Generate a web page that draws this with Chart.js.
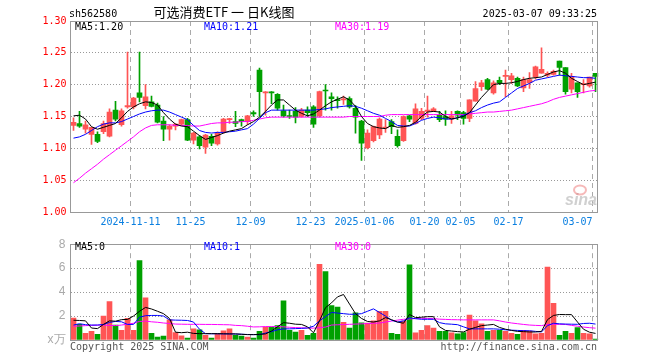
<!DOCTYPE html>
<html>
<head>
<meta charset="utf-8">
<style>
  html, body { margin: 0; padding: 0; background: #fff; }
  #wrap { position: relative; width: 660px; height: 360px; }
  canvas { position: absolute; left: 0; }
  #k { top: 0; }
  #v { top: 232px; }
</style>
<script src="https://cdn.jsdelivr.net/npm/chart.js@4/dist/chart.umd.min.js"></script>
</head>
<body>
<div id="wrap">
  <canvas id="k" width="660" height="232"></canvas>
  <canvas id="v" width="660" height="128"></canvas>
</div>
<script>
// 可选消费ETF (sh562580) — 日K线图

const dates = [
  '2024-10-28','2024-10-29','2024-10-30','2024-10-31','2024-11-01','2024-11-04','2024-11-05','2024-11-06','2024-11-07','2024-11-08',
  '2024-11-11','2024-11-12','2024-11-13','2024-11-14','2024-11-15','2024-11-18','2024-11-19','2024-11-20','2024-11-21','2024-11-22',
  '2024-11-25','2024-11-26','2024-11-27','2024-11-28','2024-11-29','2024-12-02','2024-12-03','2024-12-04','2024-12-05','2024-12-06',
  '2024-12-09','2024-12-10','2024-12-11','2024-12-12','2024-12-13','2024-12-16','2024-12-17','2024-12-18','2024-12-19','2024-12-20',
  '2024-12-23','2024-12-24','2024-12-25','2024-12-26','2024-12-27','2024-12-30','2024-12-31','2025-01-02','2025-01-03','2025-01-06',
  '2025-01-07','2025-01-08','2025-01-09','2025-01-10','2025-01-13','2025-01-14','2025-01-15','2025-01-16','2025-01-17','2025-01-20',
  '2025-01-21','2025-01-22','2025-01-23','2025-01-24','2025-01-27','2025-02-05','2025-02-06','2025-02-07','2025-02-10','2025-02-11',
  '2025-02-12','2025-02-13','2025-02-14','2025-02-17','2025-02-18','2025-02-19','2025-02-20','2025-02-21','2025-02-24','2025-02-25',
  '2025-02-26','2025-02-27','2025-02-28','2025-03-03','2025-03-04','2025-03-05','2025-03-06','2025-03-07'
];

const opens = [
  1.136,1.139,1.130,1.122,1.122,1.126,1.119,1.160,1.137,1.165,
  1.165,1.187,1.167,1.173,1.168,1.143,1.130,1.135,1.138,1.145,
  1.113,1.118,1.102,1.119,1.107,1.126,1.145,1.142,1.145,1.142,
  1.156,1.223,1.187,1.188,1.185,1.159,1.151,1.158,1.150,1.160,
  1.165,1.151,1.191,1.181,1.176,1.176,1.178,1.163,1.143,1.101,
  1.112,1.121,1.132,1.142,1.119,1.112,1.151,1.139,1.147,1.158,
  1.158,1.152,1.150,1.146,1.158,1.156,1.147,1.174,1.197,1.208,
  1.187,1.207,1.213,1.208,1.210,1.195,1.203,1.212,1.218,1.215,
  1.216,1.237,1.227,1.193,1.203,1.200,1.198,1.218
];
const highs = [
  1.148,1.158,1.143,1.133,1.126,1.143,1.162,1.174,1.162,1.251,
  1.180,1.251,1.200,1.182,1.171,1.150,1.137,1.139,1.146,1.147,
  1.125,1.120,1.122,1.122,1.126,1.147,1.147,1.158,1.146,1.152,
  1.159,1.226,1.189,1.189,1.186,1.168,1.160,1.164,1.163,1.165,
  1.167,1.190,1.200,1.187,1.181,1.182,1.181,1.167,1.144,1.129,
  1.135,1.148,1.145,1.145,1.129,1.151,1.152,1.170,1.163,1.182,
  1.164,1.158,1.159,1.158,1.159,1.158,1.176,1.205,1.207,1.210,
  1.206,1.212,1.223,1.218,1.212,1.212,1.219,1.229,1.258,1.220,
  1.223,1.237,1.227,1.218,1.203,1.208,1.212,1.218
];
const lows = [
  1.128,1.133,1.124,1.106,1.109,1.123,1.118,1.143,1.135,1.163,
  1.162,1.173,1.162,1.165,1.140,1.112,1.113,1.129,1.136,1.112,
  1.107,1.099,1.092,1.104,1.105,1.124,1.139,1.134,1.135,1.137,
  1.150,1.150,1.152,1.170,1.160,1.149,1.147,1.140,1.149,1.150,
  1.133,1.149,1.160,1.160,1.163,1.169,1.163,1.124,1.081,1.099,
  1.110,1.115,1.125,1.123,1.102,1.111,1.142,1.138,1.145,1.149,
  1.158,1.142,1.136,1.139,1.145,1.138,1.142,1.174,1.191,1.192,
  1.185,1.200,1.181,1.202,1.197,1.189,1.194,1.209,1.218,1.212,
  1.215,1.215,1.185,1.187,1.180,1.187,1.196,1.189
];
const closes = [
  1.141,1.135,1.137,1.133,1.111,1.139,1.157,1.146,1.159,1.167,
  1.179,1.180,1.181,1.166,1.141,1.130,1.135,1.138,1.145,1.113,
  1.124,1.104,1.121,1.108,1.124,1.146,1.146,1.139,1.142,1.151,
  1.154,1.189,1.188,1.187,1.163,1.151,1.150,1.149,1.160,1.156,
  1.138,1.189,1.190,1.178,1.175,1.177,1.165,1.149,1.108,1.124,
  1.134,1.146,1.133,1.134,1.104,1.150,1.146,1.162,1.158,1.160,
  1.162,1.145,1.146,1.151,1.152,1.147,1.176,1.194,1.203,1.193,
  1.203,1.203,1.214,1.214,1.198,1.208,1.208,1.228,1.224,1.218,
  1.221,1.227,1.189,1.213,1.189,1.201,1.212,1.213
];

// 均线 (价格)
const ma5 = [
  1.151,1.152,1.146,1.134,1.130,1.133,1.136,1.139,1.148,1.158,
  1.165,1.170,1.173,1.172,1.168,1.156,1.146,1.138,1.135,1.134,
  1.127,1.120,1.114,1.117,1.120,1.124,1.127,1.129,1.131,1.137,
  1.142,1.149,1.158,1.168,1.176,1.176,1.168,1.160,1.155,1.151,
  1.154,1.160,1.167,1.173,1.177,1.181,1.176,1.166,1.150,1.139,
  1.134,1.132,1.131,1.136,1.133,1.134,1.136,1.141,1.150,1.157,
  1.158,1.157,1.150,1.146,1.148,1.150,1.156,1.168,1.180,1.190,
  1.200,1.202,1.202,1.203,1.205,1.208,1.210,1.211,1.212,1.216,
  1.220,1.222,1.218,1.210,1.205,1.200,1.202,1.204
];
const ma10 = [
  1.116,1.118,1.122,1.128,1.134,1.138,1.140,1.140,1.142,1.146,
  1.150,1.154,1.157,1.159,1.160,1.160,1.157,1.153,1.149,1.145,
  1.136,1.128,1.125,1.124,1.125,1.125,1.126,1.127,1.129,1.131,
  1.138,1.147,1.156,1.160,1.160,1.160,1.160,1.160,1.160,1.160,
  1.160,1.161,1.162,1.164,1.165,1.166,1.167,1.166,1.163,1.159,
  1.155,1.152,1.147,1.142,1.136,1.135,1.135,1.139,1.144,1.147,
  1.149,1.148,1.146,1.146,1.148,1.152,1.156,1.159,1.164,1.168,
  1.171,1.173,1.180,1.187,1.194,1.198,1.202,1.207,1.209,1.211,
  1.213,1.215,1.214,1.213,1.212,1.211,1.211,1.210
];
const ma30 = [
  1.046,1.053,1.061,1.068,1.075,1.083,1.090,1.097,1.104,1.111,
  1.118,1.126,1.132,1.136,1.137,1.137,1.137,1.136,1.136,1.136,
  1.135,1.135,1.137,1.139,1.140,1.140,1.141,1.141,1.142,1.142,
  1.144,1.146,1.148,1.149,1.149,1.149,1.149,1.149,1.149,1.149,
  1.149,1.149,1.149,1.149,1.149,1.149,1.150,1.150,1.150,1.150,
  1.150,1.150,1.152,1.153,1.153,1.153,1.153,1.153,1.153,1.153,
  1.153,1.153,1.153,1.153,1.153,1.153,1.154,1.155,1.156,1.157,
  1.157,1.158,1.159,1.160,1.162,1.164,1.166,1.168,1.170,1.173,
  1.177,1.180,1.182,1.184,1.186,1.188,1.190,1.191
];

// 成交量 (万)
const volumes = [
  1.84,1.31,0.56,0.72,0.48,2.00,3.20,1.25,0.80,1.81,
  0.80,6.64,3.52,0.56,0.24,0.32,1.68,0.61,0.35,0.16,
  0.93,0.85,0.40,0.16,0.53,0.77,0.93,0.40,0.32,0.24,
  0.16,0.72,1.07,1.07,1.20,3.28,0.80,0.67,0.80,0.40,
  0.56,6.32,5.71,2.88,2.75,1.47,0.99,2.27,1.44,1.41,
  1.60,2.40,2.40,0.56,0.48,1.57,6.27,0.59,0.80,1.20,
  0.99,0.72,0.72,0.59,0.51,0.61,2.08,1.60,1.36,0.72,
  0.80,0.80,0.72,0.56,0.48,0.80,0.75,0.51,0.56,6.08,
  3.07,0.40,0.72,0.56,1.04,0.56,0.51,0.08
];
const volMa5 = [
  1.65,1.63,1.60,1.00,0.95,1.30,1.60,1.57,1.70,1.72,
  2.00,2.40,2.72,2.59,2.40,2.20,1.80,0.65,0.61,0.65,
  0.55,0.53,0.53,0.53,0.53,0.52,0.51,0.51,0.48,0.45,
  0.45,0.47,0.51,0.75,1.10,1.45,1.40,1.32,1.30,1.10,
  0.60,1.60,2.70,3.10,3.60,3.80,3.00,2.20,1.80,1.55,
  1.50,1.60,1.87,1.70,1.50,1.40,2.13,1.87,1.90,1.95,
  1.95,1.10,0.80,0.75,0.70,0.67,0.90,1.05,1.20,1.25,
  1.30,1.05,0.90,0.80,0.72,0.70,0.67,0.67,0.72,1.70,
  2.05,2.13,2.12,2.12,1.50,0.90,0.65,0.55
];
const volMa10 = [
  1.25,1.36,1.28,1.25,1.25,1.30,1.47,1.55,1.52,1.30,
  1.30,1.90,2.03,2.05,2.05,2.00,1.68,1.66,1.65,1.63,
  1.50,0.90,0.53,0.52,0.52,0.51,0.51,0.50,0.48,0.46,
  0.45,0.45,0.58,0.70,0.85,0.93,0.93,0.95,0.97,1.00,
  1.15,1.60,1.95,2.30,2.25,2.20,2.15,2.15,2.20,2.40,
  2.60,2.30,2.00,1.65,1.50,1.60,1.85,1.78,1.73,1.73,
  1.73,1.45,1.35,1.32,1.28,1.10,0.93,0.93,0.93,0.93,
  0.93,0.90,0.85,0.82,0.80,0.78,0.77,0.72,0.67,1.20,
  1.40,1.35,1.33,1.32,1.31,1.38,1.40,1.33
];
const volMa30 = [
  1.15,1.17,1.20,1.22,1.24,1.25,1.22,1.20,1.25,1.32,
  1.40,1.55,1.58,1.52,1.48,1.42,1.38,1.33,1.32,1.31,
  1.31,1.31,1.30,1.30,1.29,1.28,1.27,1.22,1.20,1.15,
  1.09,1.10,1.12,1.12,1.12,1.10,1.06,1.04,1.02,1.00,
  0.99,1.03,1.08,1.25,1.27,1.29,1.31,1.33,1.35,1.37,
  1.40,1.41,1.50,1.58,1.66,1.73,1.76,1.79,1.81,1.80,
  1.78,1.74,1.72,1.70,1.69,1.68,1.68,1.68,1.68,1.68,
  1.68,1.60,1.50,1.42,1.36,1.30,1.25,1.22,1.20,1.30,
  1.31,1.31,1.30,1.22,1.15,1.08,1.03,0.99
];

const tickDates = ['2024-11-11','2024-11-25','2024-12-09','2024-12-23','2025-01-06','2025-01-20','2025-02-05','2025-02-17','2025-03-07'];
const tickLabels = ['2024-11-11','11-25','12-09','12-23','2025-01-06','01-20','02-05','02-17','03-07'];

const RED = '#ff5555';
const GREEN = '#00a000';
const upColors = dates.map((d, i) => (closes[i] >= opens[i] ? RED : GREEN));
const tickIdx = tickDates.map((d) => dates.indexOf(d));

Chart.defaults.font.family = "'DejaVu Sans Mono', monospace";
Chart.defaults.font.size = 10;

const MONO = "10px 'DejaVu Sans Mono', monospace";

// 边框 (图表区四周灰线)
const frame = {
  id: 'frame',
  afterDraw(chart) {
    const { ctx, chartArea: a } = chart;
    ctx.save();
    ctx.strokeStyle = '#999';
    ctx.lineWidth = 1;
    ctx.strokeRect(Math.floor(a.left) + 0.5, Math.floor(a.top) + 0.5,
      Math.round(a.right - a.left) - 1, Math.round(a.bottom - a.top));
    ctx.restore();
  }
};

const xAxis = (showLabels) => ({
  type: 'category',
  offset: true,
  grid: {
    offset: true,
    color: '#aaa',
    drawTicks: false,
    lineWidth: (c) => (tickIdx.includes(c.index) ? 1 : 0)
  },
  border: { display: false, dash: [5, 4] },
  ticks: {
    display: showLabels,
    autoSkip: false,
    maxRotation: 0,
    padding: 4,
    labelOffset: -3,
    color: '#0a7fe0',
    callback: (v, i) => {
      const k = tickIdx.indexOf(i);
      if (k < 0) return '';
      // last label sits inside the frame
      return k === tickLabels.length - 1 ? tickLabels[k] + '     ' : tickLabels[k];
    }
  },
  afterFit: (s) => { s.height = 20; }
});

const line = (data, color) => ({
  type: 'line', data, borderColor: color, borderWidth: 1,
  pointRadius: 0, tension: 0, order: 0
});

// --- K线 ---
const headerPlugin = {
  id: 'header',
  beforeDatasetsDraw(chart) {
    const { ctx } = chart;
    ctx.save();
    ctx.fillStyle = '#d0d0d0';
    ctx.font = "italic bold 16px 'Liberation Sans', sans-serif";
    ctx.textAlign = 'left';
    ctx.fillText('sina', 565, 205);
    ctx.strokeStyle = 'rgba(235,100,100,0.45)';
    ctx.lineWidth = 2;
    ctx.beginPath();
    ctx.ellipse(580, 190, 6, 4.5, 0, 0, Math.PI * 2);
    ctx.stroke();
    ctx.restore();
  },
  afterDraw(chart) {
    const { ctx } = chart;
    ctx.save();
    ctx.textBaseline = 'alphabetic';
    ctx.font = MONO;
    ctx.fillStyle = '#000';
    ctx.textAlign = 'left';
    ctx.fillText('sh562580', 69, 17);
    ctx.textAlign = 'right';
    ctx.fillText('2025-03-07 09:33:25', 597, 17);
    ctx.font = "13px 'Noto Sans CJK SC', sans-serif";
    ctx.textAlign = 'center';
    ctx.fillText('可选消费ETF 一 日K线图', 224, 17);

    ctx.font = MONO;
    ctx.textAlign = 'left';
    ctx.fillStyle = '#000';
    ctx.fillText('MA5:' + ma5[ma5.length - 1].toFixed(2), 75, 30);
    ctx.fillStyle = '#0000ff';
    ctx.fillText('MA10:' + ma10[ma10.length - 1].toFixed(2), 204, 30);
    ctx.fillStyle = '#ff00ff';
    ctx.fillText('MA30:' + ma30[ma30.length - 1].toFixed(2), 335, 30);
    ctx.restore();
  }
};

new Chart(document.getElementById('k'), {
  data: {
    labels: dates,
    datasets: [
      {
        type: 'bar', data: dates.map((d, i) => [lows[i], highs[i]]),
        backgroundColor: upColors, barThickness: 1, grouped: false, order: 2
      },
      {
        type: 'bar', data: dates.map((d, i) => [opens[i], closes[i]]),
        backgroundColor: upColors, barThickness: 5, minBarLength: 1, grouped: false, order: 1
      },
      line(ma5, '#000000'),
      line(ma10, '#0000ff'),
      line(ma30, '#ff00ff')
    ]
  },
  options: {
    responsive: false,
    animation: false,
    devicePixelRatio: 1,
    layout: { padding: { left: 0.5, top: 21, right: 61.5, bottom: 0 } },
    plugins: { legend: { display: false }, tooltip: { enabled: false } },
    scales: {
      x: xAxis(true),
      y: {
        min: 1.0, max: 1.3,
        grid: { color: '#999', drawTicks: false },
        border: { display: false, dash: [1, 2] },
        ticks: { stepSize: 0.05, color: '#ff0000', padding: 4, callback: (v) => v.toFixed(2) },
        afterFit: (s) => { s.width = 70; }
      }
    }
  },
  plugins: [frame, headerPlugin]
});

// --- 成交量 ---
const volText = {
  id: 'volText',
  afterDraw(chart) {
    const { ctx } = chart;
    ctx.save();
    ctx.font = MONO;
    ctx.textAlign = 'left';
    ctx.fillStyle = '#000';
    ctx.fillText('MA5:' + Math.floor(volMa5[volMa5.length - 1]), 75, 18);
    ctx.fillStyle = '#0000ff';
    ctx.fillText('MA10:' + Math.floor(volMa10[volMa10.length - 1]), 204, 18);
    ctx.fillStyle = '#ff00ff';
    ctx.fillText('MA30:' + Math.floor(volMa30[volMa30.length - 1]), 335, 18);
    ctx.fillStyle = '#555';
    ctx.fillText('Copyright 2025 SINA.COM', 70, 118);
    ctx.textAlign = 'right';
    ctx.fillText('http://finance.sina.com.cn', 597, 118);
    ctx.restore();
  }
};

new Chart(document.getElementById('v'), {
  data: {
    labels: dates,
    datasets: [
      { type: 'bar', data: volumes, backgroundColor: upColors, barThickness: 5, grouped: false, order: 1 },
      line(volMa5, '#000000'),
      line(volMa10, '#0000ff'),
      line(volMa30, '#ff00ff')
    ]
  },
  options: {
    responsive: false,
    animation: false,
    devicePixelRatio: 1,
    layout: { padding: { left: 0.5, top: 8, right: 61.5, bottom: 0 } },
    plugins: { legend: { display: false }, tooltip: { enabled: false } },
    scales: {
      x: xAxis(false),
      y: {
        min: 0, max: 8,
        grid: { color: '#999', drawTicks: false },
        border: { display: false, dash: [1, 2] },
        ticks: {
          stepSize: 2, color: '#aaa', padding: 5,
          font: { family: "'Liberation Sans', sans-serif", size: 12 },
          callback: (v) => (v === 0 ? 'x万' : String(v))
        },
        afterFit: (s) => { s.width = 70; }
      }
    }
  },
  plugins: [frame, volText]
});
</script>
</body>
</html>
